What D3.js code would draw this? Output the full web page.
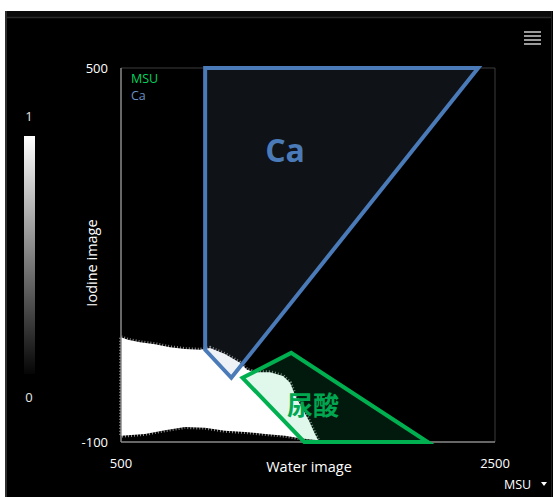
<!DOCTYPE html>
<html><head><meta charset="utf-8">
<script src="https://cdn.jsdelivr.net/npm/d3@7"></script>
<style>
html,body{margin:0;padding:0;background:#fff;}
svg{display:block;}
text{font-family:"Open Sans","Noto Sans",sans-serif;}
</style></head>
<body>
<svg id="c" width="553" height="497"></svg>
<script>
// ---- data ----
const waterTicks = [500, 2500];
const iodineTicks = [-100, 500];
const colorbarTicks = [0, 1];
const legendNames = ["MSU", "Ca"];
const legendColors = ["#00d45f", "#6a8fc2"];
// Ca region polygon (water, iodine)
const caWater = [950, 2410, 1090, 950];
const caIodine = [500, 500, 3, 48];
// MSU (uric acid) region polygon
const msuWater = [1150, 1410, 2140, 1480];
const msuIodine = [3, 43, -100, -100];
// Point cloud envelope (upper edge left→right, lower edge right→left)
const cloudTopWater  = [500, 537, 602, 682, 762, 842, 922, 976, 1056, 1136, 1174, 1217, 1297, 1366, 1404, 1431, 1468, 1505, 1532, 1554];
const cloudTopIodine = [68, 64, 60, 57, 52, 49, 48, 51, 41, 27, 16, 12, 12, 6, -5, -25, -46, -66, -84, -97];
const cloudBotWater  = [1457, 1377, 1270, 1163, 1056, 949, 842, 735, 628, 500];
const cloudBotIodine = [-94, -90, -87, -84, -82, -77, -76, -81, -87, -90];

// ---- layout ----
const svg = d3.select("#c");
const P = {l:121, r:495, t:68, b:442};
const x = d3.scaleLinear().domain([500, 2500]).range([P.l, P.r]);
const y = d3.scaleLinear().domain([-100, 500]).range([P.b, P.t]);

// panel
svg.append("rect").attr("x",5).attr("y",11).attr("width",548).attr("height",486).attr("fill","#000");
svg.append("rect").attr("x",7).attr("y",11).attr("width",544).attr("height",6).attr("fill","#0b0b0b");
svg.append("line").attr("x1",7).attr("x2",551).attr("y1",17.5).attr("y2",17.5).attr("stroke","#2a2a2a").attr("stroke-width",1.5);
svg.append("line").attr("x1",6).attr("x2",6).attr("y1",11).attr("y2",497).attr("stroke","#2e2e2e").attr("stroke-width",2);
svg.append("line").attr("x1",551.5).attr("x2",551.5).attr("y1",11).attr("y2",497).attr("stroke","#1e1e1e").attr("stroke-width",1);

// menu icon
[32, 36, 40, 44].forEach(v => svg.append("rect").attr("x",524).attr("y",v-1).attr("width",17).attr("height",2).attr("fill","#9a9a9a"));

// colorbar
const defs = svg.append("defs");
const g = defs.append("linearGradient").attr("id","cb").attr("x1",0).attr("x2",0).attr("y1",0).attr("y2",1);
g.append("stop").attr("offset","0%").attr("stop-color","#fff");
g.append("stop").attr("offset","100%").attr("stop-color","#050505");
const cb = d3.scaleLinear().domain([0,1]).range([374,136]);
svg.append("rect").attr("x",24).attr("y",cb(1)).attr("width",11).attr("height",cb(0)-cb(1)).attr("fill","url(#cb)");
svg.selectAll(".cbt").data(colorbarTicks).join("text")
  .attr("x",29).attr("y",d => d===1 ? cb(1)-15 : cb(0)+28)
  .attr("text-anchor","middle").attr("fill","#e6e6e6").attr("font-size",13).text(d => d);

// point cloud
const cloudPts = cloudTopWater.map((w,i)=>[w, cloudTopIodine[i]])
  .concat(cloudBotWater.map((w,i)=>[w, cloudBotIodine[i]]));
const line = d3.line().x(d=>x(d[0])).y(d=>y(d[1])).curve(d3.curveLinearClosed);
svg.append("path").attr("d", line(cloudPts)).attr("fill","#fff")
  .attr("stroke","#fff").attr("stroke-width",4).attr("stroke-opacity",0.55).attr("stroke-dasharray","1 2");

// frame
svg.append("line").attr("x1",P.l).attr("x2",P.r).attr("y1",P.t).attr("y2",P.t).attr("stroke","#3c3c3c");
svg.append("line").attr("x1",P.r).attr("x2",P.r).attr("y1",P.t).attr("y2",P.b).attr("stroke","#3c3c3c");
svg.append("line").attr("x1",P.l).attr("x2",P.l).attr("y1",P.t).attr("y2",P.b).attr("stroke","#8a8a8a").attr("stroke-width",1.5);
svg.append("line").attr("x1",P.l).attr("x2",P.r).attr("y1",P.b).attr("y2",P.b).attr("stroke","#8a8a8a").attr("stroke-width",1.5);

// regions
const poly = d3.line().x(d=>x(d[0])).y(d=>y(d[1])).curve(d3.curveLinearClosed);
svg.append("path").attr("d", poly(caWater.map((w,i)=>[w, caIodine[i]])))
  .attr("fill","rgb(120,144,184)").attr("fill-opacity",0.125)
  .attr("stroke","#4a7bb8").attr("stroke-width",4).attr("stroke-linejoin","miter");
svg.append("path").attr("d", poly(msuWater.map((w,i)=>[w, msuIodine[i]])))
  .attr("fill","rgb(15,200,108)").attr("fill-opacity",0.13)
  .attr("stroke","#00b050").attr("stroke-width",4).attr("stroke-linejoin","miter");

// region labels
svg.append("text").attr("x",x(1377)).attr("y",y(350)).attr("text-anchor","middle")
  .attr("fill","#4a7bb8").attr("font-size",32).attr("font-weight","bold").text("Ca");
svg.append("text").attr("x",x(1527)).attr("y",y(-56)).attr("text-anchor","middle")
  .attr("fill","#00a650").attr("font-size",26).attr("font-weight","bold")
  .style("font-family","'Noto Sans CJK JP','Noto Sans CJK SC',sans-serif").text("尿酸");

// legend
svg.selectAll(".lg").data(legendNames).join("text")
  .attr("x",131).attr("y",(d,i)=>83+i*17).attr("fill",(d,i)=>legendColors[i])
  .attr("font-size",12.5).text(d=>d);

// axis tick labels
svg.selectAll(".xt").data(waterTicks).join("text")
  .attr("x",d=>x(d)).attr("y",468).attr("text-anchor","middle").attr("fill","#fff").attr("font-size",13).text(d=>d);
svg.selectAll(".yt").data(iodineTicks).join("text")
  .attr("x",108).attr("y",d=>y(d)+5).attr("text-anchor","end").attr("fill","#fff").attr("font-size",13).text(d=>d);

// axis titles
svg.append("text").attr("x",309).attr("y",472).attr("text-anchor","middle").attr("fill","#fff").attr("font-size",14.5).text("Water image");
svg.append("text").attr("transform","translate(97,263) rotate(-90)").attr("text-anchor","middle").attr("fill","#fff").attr("font-size",14.5).text("Iodine image");

// selector
svg.append("text").attr("x",504).attr("y",489).attr("fill","#fff").attr("font-size",12.5).text("MSU");
svg.append("path").attr("d","M541,482 L547,482 L544,486 Z").attr("fill","#fff");
</script>
</body></html>
